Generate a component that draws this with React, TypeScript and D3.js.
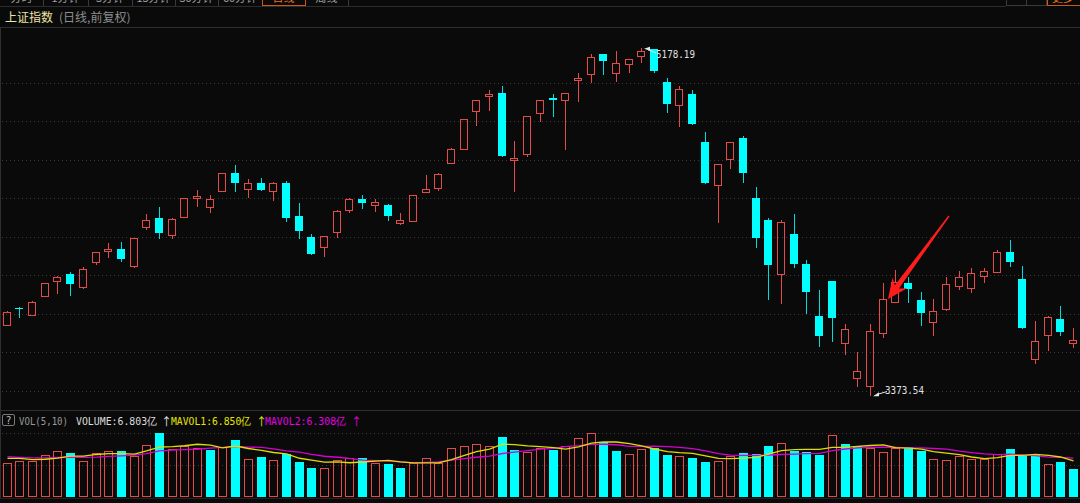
import React from "react";
import * as d3 from "d3";

// ---- data (Shanghai Composite, daily, 2015-04-01 .. 2015-07-31) ----
const dates = [
  "04-01","04-02","04-03","04-07","04-08","04-09","04-10","04-13","04-14","04-15",
  "04-16","04-17","04-20","04-21","04-22","04-23","04-24","04-27","04-28","04-29",
  "04-30","05-04","05-05","05-06","05-07","05-08","05-11","05-12","05-13","05-14",
  "05-15","05-18","05-19","05-20","05-21","05-22","05-25","05-26","05-27","05-28",
  "05-29","06-01","06-02","06-03","06-04","06-05","06-08","06-09","06-10","06-11",
  "06-12","06-15","06-16","06-17","06-18","06-19","06-23","06-24","06-25","06-26",
  "06-29","06-30","07-01","07-02","07-03","07-06","07-07","07-08","07-09","07-10",
  "07-13","07-14","07-15","07-16","07-17","07-20","07-21","07-22","07-23","07-24",
  "07-27","07-28","07-29","07-30","07-31",
];
const open = [
  3744,3828,3795,3893,3970,4005,3941,4070,4125,4135,
  4050,4252,4297,4209,4301,4400,4353,4439,4530,4446,
  4481,4439,4481,4308,4200,4145,4226,4339,4398,4366,
  4366,4270,4280,4431,4455,4583,4654,4853,4929,4945,
  4597,4631,4841,4919,4910,5015,5043,5147,5048,5097,
  5138,5173,5002,4884,4939,4692,4468,4602,4711,4400,
  4289,4005,4213,4059,3790,3972,3650,3465,3427,3703,
  3860,3958,3872,3756,3825,3946,3936,3996,4019,4119,
  3981,3567,3690,3772,3650,
];
const high = [
  3815,3837,3866,3961,3996,4015,4041,4122,4169,4173,
  4195,4318,4356,4296,4402,4443,4415,4531,4572,4500,
  4503,4486,4488,4377,4214,4204,4337,4400,4417,4394,
  4370,4322,4418,4519,4530,4660,4813,4911,4962,4982,
  4697,4829,4911,4941,4947,5048,5147,5148,5166,5124,
  5178.19,5176,5026,4982,4960,4745,4580,4690,4723,4457,
  4299,4287,4316,4080,3924,3972,3747,3600,3747,3958,
  4030,3990,3912,3877,3993,4022,4040,4040,4130,4183,
  4050,3764,3789,3843,3728,
];
const low = [
  3742,3777,3792,3890,3901,3894,3930,4055,4088,4070,
  4036,4235,4190,4190,4296,4356,4322,4436,4434,4400,
  4439,4387,4278,4190,4105,4097,4192,4322,4343,4330,
  4280,4261,4278,4429,4439,4578,4650,4776,4854,4616,
  4434,4616,4797,4823,4650,4898,5000,5040,5005,5052,
  5104,5048,4841,4771,4780,4476,4270,4552,4481,4143,
  3872,3850,4039,3798,3630,3652,3586,3422,3373.54,3676,
  3855,3855,3738,3686,3816,3924,3910,3958,4015,4045,
  3722,3538,3609,3686,3621,
];
const close = [
  3810,3825.8,3863.9,3958,3991,3955,4035,4119,4137,4083,
  4192,4285,4218,4294,4400,4412,4394,4530,4478,4479,
  4443,4481,4299,4228,4111,4204,4334,4398,4375.8,4378.3,
  4309,4285,4417,4446,4527,4657,4810,4910,4941,4619,
  4610,4827,4911,4908,4945,5022,5131,5114,5104,5121,
  5164,5062,4891,4967,4784,4478,4576,4690,4530,4195,
  4052,4275,4057,3912,3686,3777,3723,3503,3711,3877,
  3967,3927,3806,3816,3953,3993,4014,4024,4119,4071,
  3725,3660,3785,3707,3664,
];
// volume, 亿
const volume = [
  8.82,9.24,9.24,10.91,11.96,11.44,9.24,11.44,11.96,11.96,
  10.73,13.53,16.49,12.48,13.16,12.74,12.30,13.01,14.84,9.94,
  10.28,9.50,11.17,9.16,7.59,7.59,9.68,10.13,10.13,8.82,
  8.56,7.54,8.85,10.15,8.85,12.77,13.29,13.74,13.29,15.49,
  12.17,11.65,12.61,12.17,13.29,15.23,16.62,14.26,11.91,11.04,
  12.35,12.61,10.86,10.60,10.00,8.95,9.37,10.60,11.31,11.04,
  13.29,13.92,11.91,11.57,10.86,16.09,13.74,13.29,12.77,11.57,
  12.61,13.03,11.91,9.74,9.47,10.68,9.89,9.81,11.04,12.35,
  10.86,11.04,8.43,9.03,7.12,
];
// the nine sessions before the first visible one (needed for the moving averages)
const prevVolume = [10.99,10.47,11.25,10.73,10.73,9.42,10.73,10.47,10.55];
const prevClose = 3747.9;

const gridPrices = [3400,3600,3800,4000,4200,4400,4600,4800,5000];
const tabLabels = ["分时","1分钟","5分钟","15分钟","30分钟","60分钟","日线","周线"];
const tabSelected = 6;
const titleName = "上证指数";
const titleSub = "(日线,前复权)";
const volHeader = { name: "VOL(5,10)", volume: "VOLUME:6.803亿", ma1: "MAVOL1:6.850亿", ma2: "MAVOL2:6.308亿" };

const RED = "#e44a4a";
const CYAN = "#00ffff";
const BG = "#0a0a0a";
const MONO = "'DejaVu Sans Mono', 'Liberation Mono', monospace";
const CJK = "'Noto Sans CJK SC', 'Noto Sans', sans-serif";

export default function App() {
  const W = 1080, H = 503;
  const x = d3.scaleBand<string>().domain(dates).range([0.35, 1079.35]).paddingInner(0).paddingOuter(0);
  const cx = (i: number) => Math.round((x(dates[i]) as number) + x.bandwidth() / 2);

  const y = d3.scaleLinear().domain([d3.min(low) as number, d3.max(high) as number]).range([396, 48.3]);
  const vmax = d3.max(volume) as number;
  const yv = d3.scaleLinear().domain([0, vmax]).range([496.5, 433]);

  const allVol = prevVolume.concat(volume);
  const ma = (k: number) => volume.map((_, i) => {
    const end = i + prevVolume.length;
    return d3.mean(allVol.slice(end - k + 1, end + 1)) as number;
  });
  const ma5 = ma(5), ma10 = ma(10);
  const line = d3.line<number>().x((_, i) => cx(i) + 0.5).y((v) => yv(v));

  const hiIdx = d3.maxIndex(high);
  const loIdx = d3.minIndex(low);
  const fmt = d3.format(".2f");

  const tabEdges = [0, 43, 88, 132, 175, 218, 262, 305, 348];

  // red annotation arrow anchored on the 07-10 candle
  const ai = dates.indexOf("07-10");
  const tip: [number, number] = [cx(ai) + 5, y(close[ai])];
  const tail: [number, number] = [tip[0] + 61, tip[1] - 83];
  const L = Math.hypot(tail[0] - tip[0], tail[1] - tip[1]);
  const u = [(tip[0] - tail[0]) / L, (tip[1] - tail[1]) / L];
  const nv = [-u[1], u[0]];
  const P = (base: [number, number], back: number, side: number) =>
    `${base[0] - u[0] * back + nv[0] * side},${base[1] - u[1] * back + nv[1] * side}`;
  const arrowPts = [
    P(tip, 0, 0), P(tip, 20, 9), P(tip, 15, 2.6), P(tail, 0, 0.7),
    P(tail, 0, -0.7), P(tip, 15, -2.6), P(tip, 20, -9),
  ].join(" ");

  return (
    <svg width={W} height={H} style={{ position: "absolute", left: 0, top: 0, display: "block" }}>
      <rect x={0} y={0} width={W} height={H} fill={BG} />

      {/* top tab strip (cut off by the window edge) */}
      <g>
        {tabLabels.map((t, i) => (
          <text key={t} x={(tabEdges[i] + tabEdges[i + 1]) / 2} y={2} textAnchor="middle"
            fontFamily={CJK} fontSize={11} fill={i === tabSelected ? "#e8761e" : "#a0a0a0"}>{t}</text>
        ))}
        {tabEdges.slice(1).map((e) => (
          <line key={e} x1={e + 0.5} x2={e + 0.5} y1={0} y2={6} stroke="#3a3a3a" />
        ))}
        <rect x={262.5} y={-2} width={43} height={7.5} fill="none" stroke="#c85a14" />
        <rect x={1006.5} y={-2} width={20} height={7.5} fill="none" stroke="#3a3a3a" />
        <rect x={1026.5} y={-2} width={20} height={7.5} fill="none" stroke="#3a3a3a" />
        <rect x={1047.5} y={-2} width={34} height={7.5} fill="none" stroke="#c85a14" />
        <text x={1063} y={1.5} textAnchor="middle" fontFamily={CJK} fontSize={11} fill="#e8761e">更多</text>
        <line x1={0} x2={1006} y1={6.5} y2={6.5} stroke="#2c2c2c" />
      </g>

      {/* title */}
      <text x={5} y={21.5} fontFamily={CJK} fontSize={12} fill="#ece4a6">{titleName}</text>
      <text x={59} y={21.5} fontFamily={CJK} fontSize={12} fill="#8e8e8e">{titleSub}</text>
      <line x1={0} x2={W} y1={27.5} y2={27.5} stroke="#2e2e2e" />
      <line x1={0.5} x2={0.5} y1={27} y2={498} stroke="#2e2e2e" />

      {/* price grid */}
      {gridPrices.map((p) => (
        <line key={p} x1={2} x2={W} y1={Math.round(y(p)) + 0.5} y2={Math.round(y(p)) + 0.5}
          stroke="#3c3c3c" strokeDasharray="1 3" />
      ))}

      {/* candles */}
      <g shapeRendering="crispEdges">
        {dates.map((d, i) => {
          const c = cx(i);
          const o = open[i], cl = close[i];
          const up = cl >= o;
          const top = Math.round(y(Math.max(o, cl)));
          const bot = Math.round(y(Math.min(o, cl)));
          const hy = Math.round(y(high[i]));
          const ly = Math.round(y(low[i]));
          const bh = Math.max(bot - top, 1);
          if (up) {
            return (
              <g key={d}>
                {hy < top && <line x1={c + 0.5} x2={c + 0.5} y1={hy} y2={top} stroke={RED} />}
                {ly > top + bh && <line x1={c + 0.5} x2={c + 0.5} y1={top + bh} y2={ly} stroke={RED} />}
                <rect x={c - 3.5} y={top + 0.5} width={7} height={bh} fill="none" stroke={RED} />
              </g>
            );
          }
          return (
            <g key={d}>
              <line x1={c + 0.5} x2={c + 0.5} y1={hy} y2={ly} stroke="#00dcdc" />
              <rect x={c - 4} y={top} width={8} height={Math.max(bh, 1)} fill={CYAN} />
            </g>
          );
        })}
      </g>

      {/* high / low labels */}
      <g>
        <line x1={cx(hiIdx) + 7} y1={y(high[hiIdx]) + 1.5} x2={cx(hiIdx) + 15} y2={y(high[hiIdx]) + 4.5} stroke="#e6e6e6" />
        <path d={`M${cx(hiIdx) + 3},${y(high[hiIdx]) + 0.5} l6,-2 l0,4 z`} fill="#e6e6e6" />
        <text x={cx(hiIdx) + 15} y={y(high[hiIdx]) + 10} fontFamily={MONO} fontSize={11} fill="#e0e0e0"
          textLength={39} lengthAdjust="spacingAndGlyphs">{fmt(high[hiIdx])}</text>

        <line x1={cx(loIdx) + 7} y1={y(low[loIdx]) - 1.5} x2={cx(loIdx) + 17} y2={y(low[loIdx]) - 4.5} stroke="#e6e6e6" />
        <path d={`M${cx(loIdx) + 3},${y(low[loIdx]) + 0.2} l6,-4 l0,4 z`} fill="#e6e6e6" />
        <text x={cx(loIdx) + 15} y={y(low[loIdx]) - 2} fontFamily={MONO} fontSize={11} fill="#e0e0e0"
          textLength={39} lengthAdjust="spacingAndGlyphs">{fmt(low[loIdx])}</text>
      </g>

      {/* red annotation arrow */}
      <polygon points={arrowPts} fill="#ff1c1c" />

      {/* volume panel */}
      <line x1={0} x2={W} y1={410.5} y2={410.5} stroke="#2e2e2e" />
      <rect x={2.5} y={414.5} width={12} height={11} rx={1.5} fill="none" stroke="#7a7a7a" />
      <text x={8.5} y={424} textAnchor="middle" fontFamily={MONO} fontSize={10} fill="#bdbdbd">?</text>
      <text x={19} y={425} fontFamily={MONO} fontSize={11} fill="#9a9a9a" textLength={49} lengthAdjust="spacingAndGlyphs">{volHeader.name}</text>
      <text x={76} y={425} fontFamily={MONO} fontSize={11} fill="#dcdcdc" textLength={81} lengthAdjust="spacingAndGlyphs">{volHeader.volume}</text>
      <text x={161} y={425.5} fontFamily={CJK} fontSize={11} fill="#e6e6e6">↑</text>
      <text x={171} y={425} fontFamily={MONO} fontSize={11} fill="#e6e600" textLength={80} lengthAdjust="spacingAndGlyphs">{volHeader.ma1}</text>
      <text x={256} y={425.5} fontFamily={CJK} fontSize={11} fill="#e6e600">↑</text>
      <text x={265} y={425} fontFamily={MONO} fontSize={11} fill="#e600e6" textLength={81} lengthAdjust="spacingAndGlyphs">{volHeader.ma2}</text>
      <text x={351} y={425.5} fontFamily={CJK} fontSize={11} fill="#e600e6">↑</text>

      {[vmax, vmax / 2].map((v, k) => (
        <line key={k} x1={2} x2={W} y1={Math.round(yv(v)) + 0.5} y2={Math.round(yv(v)) + 0.5}
          stroke="#3c3c3c" strokeDasharray="1 3" />
      ))}

      <g shapeRendering="crispEdges">
        {dates.map((d, i) => {
          const c = cx(i);
          const pc = i === 0 ? prevClose : close[i - 1];
          const up = close[i] >= pc;
          const t = Math.round(yv(volume[i]));
          const b = Math.round(yv(0));
          return up ? (
            <rect key={d} x={c - 3.5} y={t + 0.5} width={8} height={b - t - 1} fill="none" stroke={RED} />
          ) : (
            <rect key={d} x={c - 4} y={t} width={9} height={b - t} fill={CYAN} />
          );
        })}
      </g>
      <path d={line(ma10) as string} fill="none" stroke="#d400d4" strokeWidth={1.3} />
      <path d={line(ma5) as string} fill="none" stroke="#dede00" strokeWidth={1.3} />
      <line x1={0} x2={W} y1={498.5} y2={498.5} stroke="#222" />
    </svg>
  );
}
